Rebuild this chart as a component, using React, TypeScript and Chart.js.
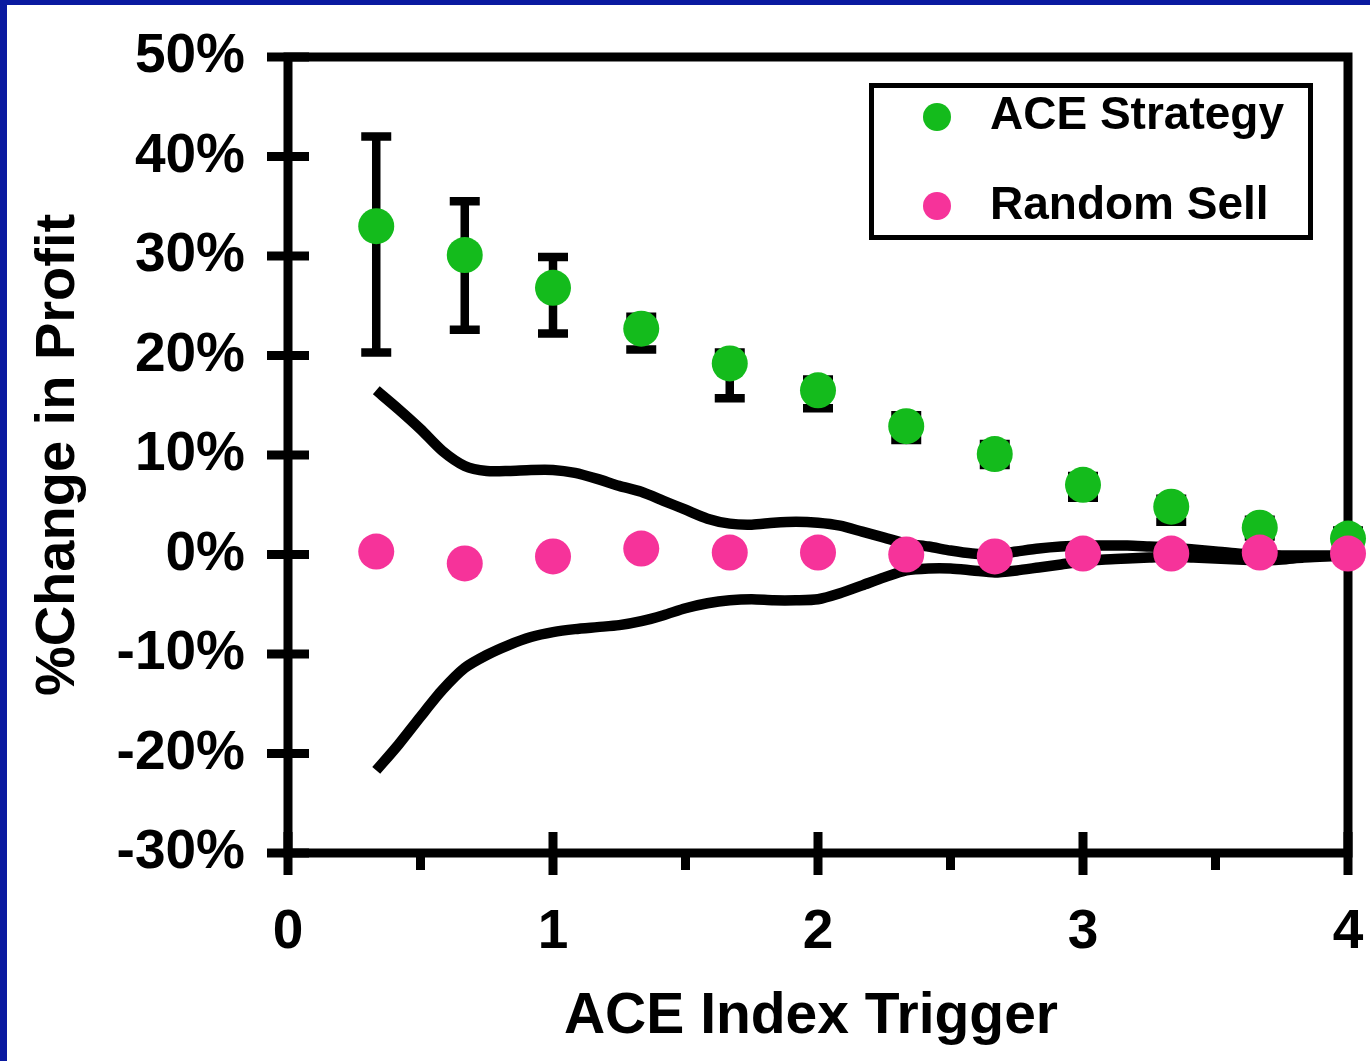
import React, { useEffect, useRef } from 'react';
import { Chart, registerables } from 'chart.js';

Chart.register(...registerables);

// ---- Data ----
const triggerLevels = [0.333, 0.667, 1.0, 1.333, 1.667, 2.0, 2.333, 2.667, 3.0, 3.333, 3.667, 4.0];
const aceStrategy = [33.0, 30.1, 26.8, 22.7, 19.2, 16.5, 12.9, 10.1, 7.0, 4.8, 2.7, 1.6];
const aceUpper = [42.0, 35.5, 29.9, 23.9, 20.3, 17.6, 14.0, 11.1, 7.9, 5.6, 3.5, 2.4];
const aceLower = [20.3, 22.6, 22.2, 20.6, 15.7, 14.7, 11.5, 9.0, 5.7, 3.3, 1.8, 0.6];
const randomSell = [0.3, -0.9, -0.2, 0.6, 0.2, 0.2, 0.0, -0.2, 0.1, 0.1, 0.2, 0.1];

const bandX = [
  0.333, 0.417, 0.5, 0.583, 0.667, 0.75, 0.833, 0.917, 1.0, 1.083, 1.167, 1.25, 1.333, 1.417, 1.5,
  1.583, 1.667, 1.75, 1.833, 1.917, 2.0, 2.083, 2.167, 2.25, 2.333, 2.417, 2.5, 2.583, 2.667, 2.75,
  2.833, 2.917, 3.0, 3.083, 3.167, 3.25, 3.333, 3.417, 3.5, 3.583, 3.667, 3.75, 3.833, 3.917, 4.0,
];
const bandUpper = [
  16.5, 14.6, 12.6, 10.4, 8.9, 8.4, 8.4, 8.5, 8.5, 8.2, 7.6, 6.9, 6.3, 5.4, 4.5,
  3.6, 3.1, 3.0, 3.2, 3.3, 3.2, 2.9, 2.3, 1.7, 1.1, 0.8, 0.4, 0.1, 0.0, 0.3,
  0.6, 0.8, 0.9, 0.9, 0.9, 0.8, 0.7, 0.5, 0.3, 0.1, 0.0, -0.1, -0.1, -0.1, -0.1,
];
const bandLower = [
  -21.7, -19.1, -16.3, -13.6, -11.4, -10.1, -9.1, -8.3, -7.8, -7.5, -7.3, -7.1, -6.7, -6.1, -5.4,
  -4.9, -4.6, -4.5, -4.6, -4.6, -4.5, -3.9, -3.1, -2.3, -1.6, -1.4, -1.4, -1.6, -1.8, -1.6,
  -1.3, -1.0, -0.7, -0.5, -0.4, -0.3, -0.2, -0.3, -0.4, -0.5, -0.6, -0.5, -0.3, -0.2, -0.1,
];

const yTickValues = [-30, -20, -10, 0, 10, 20, 30, 40, 50];
const xMajorTicks = [0, 1, 2, 3, 4];
const xMinorTicks = [0.5, 1.5, 2.5, 3.5];

const seriesLabels = ['ACE Strategy', 'Random Sell'];
const xAxisTitle = 'ACE Index Trigger';
const yAxisTitle = '%Change in Profit';
const GREEN = '#14bb1c';
const PINK = '#f6339a';
const FONT = "'Liberation Sans', Arial, Helvetica, sans-serif";

const decorPlugin = {
  id: 'decor',
  beforeDatasetsDraw(chart: any) {
    const { ctx, chartArea: ca, scales } = chart;
    const x = scales.x;
    const y = scales.y;
    ctx.save();
    ctx.strokeStyle = '#000';
    ctx.lineCap = 'butt';
    ctx.lineJoin = 'miter';
    ctx.lineWidth = 9;
    // frame
    ctx.strokeRect(ca.left, ca.top, ca.right - ca.left, ca.bottom - ca.top);
    // y major ticks (crossing)
    ctx.beginPath();
    yTickValues.forEach((v) => {
      const py = y.getPixelForValue(v);
      ctx.moveTo(ca.left - 21, py);
      ctx.lineTo(ca.left + 21, py);
    });
    // x major ticks
    xMajorTicks.forEach((v) => {
      const px = x.getPixelForValue(v);
      ctx.moveTo(px, ca.bottom - 21);
      ctx.lineTo(px, ca.bottom + 22);
    });
    // x minor ticks
    xMinorTicks.forEach((v) => {
      const px = x.getPixelForValue(v);
      ctx.moveTo(px, ca.bottom);
      ctx.lineTo(px, ca.bottom + 17);
    });
    ctx.stroke();

    // error bars for ACE strategy
    ctx.lineWidth = 8.5;
    ctx.beginPath();
    triggerLevels.forEach((t, i) => {
      const px = x.getPixelForValue(t);
      const pTop = y.getPixelForValue(aceUpper[i]);
      const pBot = y.getPixelForValue(aceLower[i]);
      ctx.moveTo(px, pTop);
      ctx.lineTo(px, pBot);
      ctx.moveTo(px - 15, pTop);
      ctx.lineTo(px + 15, pTop);
      ctx.moveTo(px - 15, pBot);
      ctx.lineTo(px + 15, pBot);
    });
    ctx.stroke();
    ctx.restore();
  },
  afterDraw(chart: any) {
    const { ctx } = chart;
    ctx.save();
    // x axis title
    ctx.fillStyle = '#000';
    ctx.font = `bold 57px ${FONT}`;
    ctx.textAlign = 'center';
    ctx.textBaseline = 'alphabetic';
    ctx.fillText(xAxisTitle, 811, 1033);
    // legend box
    ctx.fillStyle = '#fff';
    ctx.strokeStyle = '#000';
    ctx.lineWidth = 5;
    ctx.fillRect(871.5, 85.5, 439, 152);
    ctx.strokeRect(871.5, 85.5, 439, 152);
    const colors = [GREEN, PINK];
    const rows = [117, 206];
    const baselines = [129, 219];
    ctx.font = `bold 46px ${FONT}`;
    ctx.textBaseline = 'alphabetic';
    ctx.textAlign = 'left';
    seriesLabels.forEach((lab, i) => {
      ctx.fillStyle = colors[i];
      ctx.beginPath();
      ctx.arc(937, rows[i], 14, 0, Math.PI * 2);
      ctx.fill();
      ctx.fillStyle = '#000';
      ctx.fillText(lab, 990, baselines[i]);
    });
    // slide border (blue)
    ctx.fillStyle = '#0a1aa0';
    ctx.fillRect(0, 0, chart.width, 5);
    ctx.fillRect(0, 0, 7, chart.height);
    ctx.restore();
  },
};

export default function App() {
  const canvasRef = useRef<HTMLCanvasElement | null>(null);

  useEffect(() => {
    const canvas = canvasRef.current;
    if (!canvas) return;
    const chart = new Chart(canvas, {
      type: 'scatter',
      data: {
        datasets: [
          {
            label: seriesLabels[1],
            data: triggerLevels.map((t, i) => ({ x: t, y: randomSell[i] })),
            backgroundColor: PINK,
            borderWidth: 0,
            pointRadius: 18,
            pointHoverRadius: 18,
            clip: false,
            order: 0,
          },
          {
            label: seriesLabels[0],
            data: triggerLevels.map((t, i) => ({ x: t, y: aceStrategy[i] })),
            backgroundColor: GREEN,
            borderWidth: 0,
            pointRadius: 18,
            pointHoverRadius: 18,
            clip: false,
            order: 1,
          },
          {
            type: 'line',
            label: 'Upper bound',
            data: bandX.map((t, i) => ({ x: t, y: bandUpper[i] })),
            borderColor: '#000',
            backgroundColor: '#000',
            borderWidth: 10.5,
            pointRadius: 0,
            fill: false,
            tension: 0.25,
            clip: false,
            order: 2,
          },
          {
            type: 'line',
            label: 'Lower bound',
            data: bandX.map((t, i) => ({ x: t, y: bandLower[i] })),
            borderColor: '#000',
            backgroundColor: '#000',
            borderWidth: 10.5,
            pointRadius: 0,
            fill: false,
            tension: 0.25,
            clip: false,
            order: 3,
          },
        ] as any,
      },
      options: {
        animation: false,
        responsive: false,
        maintainAspectRatio: false,
        layout: { padding: { top: 57, right: 22, left: 0, bottom: 0 } },
        plugins: {
          legend: { display: false },
          tooltip: { enabled: false },
        },
        scales: {
          x: {
            type: 'linear',
            min: 0,
            max: 4,
            grid: { display: false, drawTicks: false },
            border: { display: false },
            ticks: {
              stepSize: 1,
              color: '#000',
              padding: 47,
              font: { family: FONT, size: 55, weight: 'bold' },
            },
            title: { display: false, text: xAxisTitle },
            afterFit: (scale: any) => {
              scale.height = 208;
              scale.paddingLeft = 0;
              scale.paddingRight = 0;
            },
          },
          y: {
            type: 'linear',
            min: -30,
            max: 50,
            grid: { display: false, drawTicks: false },
            border: { display: false },
            ticks: {
              stepSize: 10,
              color: '#000',
              padding: 43,
              font: { family: FONT, size: 55, weight: 'bold' },
              callback: (v: any) => `${v}%`,
            },
            title: {
              display: true,
              text: yAxisTitle,
              color: '#000',
              font: { family: FONT, size: 56, weight: 'bold' },
              padding: { top: 25, bottom: 0 },
            },
            afterFit: (scale: any) => {
              scale.width = 288;
              scale.paddingTop = 0;
              scale.paddingBottom = 0;
            },
          },
        },
      } as any,
      plugins: [decorPlugin],
    });
    return () => chart.destroy();
  }, []);

  return (
    <div style={{ position: 'absolute', left: 0, top: 0, width: 1370, height: 1061, background: '#fff' }}>
      <canvas ref={canvasRef} width={1370} height={1061} style={{ display: 'block' }} />
    </div>
  );
}
